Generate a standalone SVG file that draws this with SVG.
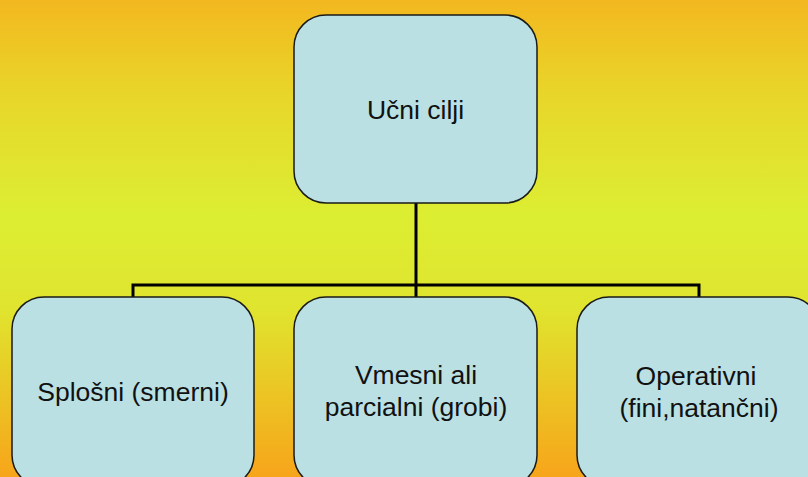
<svg xmlns="http://www.w3.org/2000/svg" width="808" height="477" viewBox="0 0 808 477">
<defs>
<linearGradient id="bg" x1="0" y1="0" x2="0" y2="1">
<stop offset="0" stop-color="#F3B81F"/>
<stop offset="0.2" stop-color="#E8D62A"/>
<stop offset="0.45" stop-color="#DCEE32"/>
<stop offset="0.65" stop-color="#E0E42E"/>
<stop offset="1" stop-color="#F7A51A"/>
</linearGradient>
<style>
.box{fill:#BAE0E3;stroke:#1a1a1a;stroke-width:1.5}
.lbl{font-family:"Liberation Sans",Arial,sans-serif;font-size:26.5px;fill:#111;text-anchor:middle}
.con{stroke:#000;stroke-width:3;fill:none}
</style>
</defs>
<rect width="808" height="477" fill="url(#bg)"/>
<g id="connectors">
<path class="con" d="M416 203V285M133 297V285H699V297M416 285V297"/>
</g>
<g id="root">
<rect class="box" x="294" y="15" width="243" height="188" rx="32"/>
<text class="lbl" x="415.5" y="119">Učni cilji</text>
</g>
<g id="splosni">
<rect class="box" x="12" y="297" width="242" height="190" rx="32"/>
<text class="lbl" x="133" y="401">Splošni (smerni)</text>
</g>
<g id="vmesni">
<rect class="box" x="294" y="297" width="243" height="190" rx="32"/>
<text class="lbl" x="416" y="384">Vmesni ali</text>
<text class="lbl" x="416" y="416">parcialni (grobi)</text>
</g>
<g id="operativni">
<rect class="box" x="577" y="297" width="243" height="190" rx="32"/>
<text class="lbl" x="696" y="385">Operativni</text>
<text class="lbl" x="699" y="417">(fini,natančni)</text>
</g>
</svg>
